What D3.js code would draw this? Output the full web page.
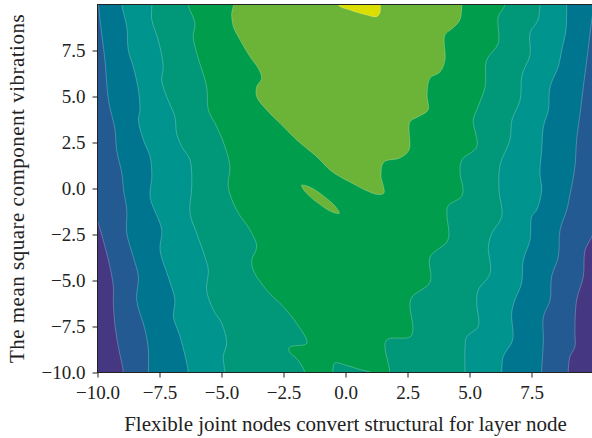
<!DOCTYPE html>
<html>
<head>
<meta charset="utf-8">
<script src="https://cdn.jsdelivr.net/npm/d3@7"></script>
<style>
  html, body { margin: 0; padding: 0; background: #fff; }
  svg { display: block; }
</style>
</head>
<body>
<div id="chart"></div>
<script>
// Axis ticks
const xTicks = [-10, -7.5, -5, -2.5, 0, 2.5, 5, 7.5];
const yTicks = [-10, -7.5, -5, -2.5, 0, 2.5, 5, 7.5];

// Filled contour levels, lowest to highest
const bandColors = ["#463782", "#235a91", "#00758f", "#00948f", "#009878", "#009e4c", "#6cb437", "#dcde00"];

// Contour boundaries as [x, y], top to bottom.
// leftN / rightN enclose level N and everything above it.
const left1 = [[-10.5, 2.0], [-10.25, -0.8], [-10.01, -1.71], [-9.70, -3.16], [-9.50, -4.25], [-9.36, -5.34], [-9.36, -6.22], [-9.29, -7.51], [-9.16, -8.60], [-8.96, -9.96]];
const right1 = [[10.5, 2.0], [10.3, -0.8], [10.14, -1.71], [9.93, -2.62], [9.66, -3.35], [9.59, -4.79], [9.32, -6.06], [9.25, -7.69], [9.25, -8.60], [9.05, -9.14], [8.98, -9.97]];

const left2 = [[-9.97, 10.24], [-9.90, 9.16], [-9.70, 6.98], [-9.56, 4.81], [-9.29, 3.18], [-9.23, 2.09], [-9.02, 0.84], [-8.95, -0.08], [-8.82, -1.17], [-8.82, -2.42], [-8.56, -3.71], [-8.35, -4.79], [-8.42, -6.06], [-8.08, -7.69], [-7.95, -8.78], [-7.95, -9.97]];
const right2 = [[10.06, 10.24], [9.93, 9.16], [9.73, 6.98], [9.59, 5.53], [9.46, 4.09], [9.32, 2.64], [9.25, 1.18], [9.05, -0.35], [8.92, -1.17], [8.65, -2.26], [8.58, -3.71], [8.31, -4.79], [8.25, -6.06], [7.98, -6.97], [7.98, -8.23], [7.91, -9.97]];

const left3 = [[-9.02, 9.97], [-8.82, 8.79], [-8.76, 7.53], [-8.56, 6.62], [-8.35, 5.35], [-8.29, 4.27], [-8.35, 3.72], [-8.15, 2.64], [-7.88, 1.73], [-7.81, 0.64], [-7.88, -0.45], [-7.41, -2.26], [-7.48, -3.35], [-7.15, -4.79], [-6.88, -6.06], [-6.94, -6.97], [-6.67, -8.05], [-6.34, -9.97]];
const right3 = [[8.92, 9.97], [8.89, 8.61], [8.72, 7.53], [8.58, 6.62], [8.25, 5.53], [8.18, 4.27], [7.98, 3.36], [7.91, 2.09], [7.84, 0.83], [7.91, -0.08], [7.71, -1.17], [7.51, -1.53], [7.44, -2.80], [7.17, -3.89], [7.10, -5.15], [6.83, -6.06], [6.70, -6.78], [6.74, -8.23], [6.36, -9.14], [6.30, -9.97]];

const left4 = [[-7.81, 9.97], [-7.81, 9.16], [-7.55, 8.07], [-7.35, 6.62], [-7.41, 5.90], [-7.21, 4.99], [-6.88, 3.90], [-6.81, 2.99], [-6.60, 2.27], [-6.27, 1.55], [-6.20, 0.10], [-6.27, -1.35], [-6.00, -2.43], [-5.67, -3.71], [-5.53, -4.43], [-5.60, -5.52], [-5.33, -6.60], [-4.99, -7.33], [-4.79, -8.41], [-4.93, -9.14], [-4.86, -9.97]];
const right4 = [[7.84, 9.97], [7.76, 9.16], [7.44, 8.45], [7.44, 7.26], [7.12, 6.17], [7.04, 4.81], [6.71, 3.72], [6.63, 2.64], [6.23, 1.28], [6.19, -0.08], [6.30, -1.53], [5.90, -2.43], [5.76, -3.16], [5.83, -4.61], [5.35, -5.52], [5.29, -6.24], [5.35, -7.51], [4.89, -8.05], [4.82, -8.60], [4.82, -9.97]];

const left5 = [[-6.34, 9.97], [-6.07, 8.98], [-6.14, 8.25], [-6.00, 7.35], [-5.60, 5.53], [-5.53, 4.27], [-5.19, 3.36], [-4.86, 2.27], [-4.66, 1.18], [-4.73, 0.10], [-4.39, -1.17], [-3.85, -2.26], [-3.58, -3.16], [-3.78, -3.89], [-3.72, -4.43], [-3.18, -5.52], [-2.51, -6.42], [-1.97, -7.33], [-1.56, -8.41], [-2.24, -8.61], [-2.28, -8.83], [-1.92, -9.32], [-1.63, -10.03]];
const right5 = [[6.43, 9.97], [6.16, 9.34], [6.16, 7.89], [5.69, 6.98], [5.63, 5.53], [5.29, 4.27], [5.15, 3.72], [5.29, 2.27], [4.69, 1.55], [4.62, 0.83], [4.74, -0.08], [4.66, -0.46], [4.13, -0.95], [4.09, -1.44], [4.13, -2.80], [3.41, -3.72], [3.41, -5.08], [2.68, -5.90], [2.60, -6.33], [2.72, -7.69], [2.60, -8.07], [1.71, -8.18], [1.59, -8.45], [1.79, -9.97]];

// level 4 wedge poking up from the bottom edge
const bottomWedge = [[-0.50, -10.5], [-0.44, -9.5], [-0.02, -9.59], [0.58, -9.84], [1.07, -10.03], [1.30, -10.5]];

// level 6 outlines
const upperBlob = [[-4.55, 10.5], [-4.52, 9.97], [-4.59, 9.52], [-4.52, 8.79], [-4.25, 8.07], [-3.85, 7.16], [-3.52, 6.53], [-3.38, 5.99], [-3.58, 5.53], [-3.58, 4.99], [-3.18, 4.27], [-2.64, 3.54], [-1.97, 2.64], [-1.16, 1.73], [-0.63, 1.01], [-0.22, 0.64], [0.18, 0.35], [0.79, -0.08], [1.31, -0.33], [1.55, -0.25], [1.43, 0.73], [1.55, 1.44], [2.19, 1.66], [2.56, 2.09], [2.60, 3.62], [2.92, 3.89], [3.33, 4.27], [3.29, 5.08], [3.41, 6.00], [3.81, 6.33], [4.01, 6.98], [4.01, 8.34], [4.33, 8.72], [4.61, 9.16], [4.70, 10.08], [4.72, 10.5]];
const island = [[-0.25, -1.35], [-0.55, -1.27], [-1.12, -0.78], [-1.62, -0.18], [-1.77, 0.18], [-1.47, 0.09], [-0.90, -0.39], [-0.40, -0.99]];

// level 7 peak at the top edge
const peak = [[-0.32, 10.5], [-0.29, 9.97], [0.18, 9.70], [0.85, 9.43], [1.26, 9.34], [1.39, 9.55], [1.41, 10.0], [1.43, 10.5]];

const xTitle = "Flexible joint nodes convert structural for layer node";
const yTitle = "The mean square component vibrations";

// ---------------------------------------------------------------

const W = 592, H = 438;
const margin = { top: 4.5, right: -1.5, bottom: 65.5, left: 97.5 };
const iW = W - margin.left - margin.right;
const iH = H - margin.top - margin.bottom;
const font = "'Liberation Serif', 'Times New Roman', serif";
const edge = "rgba(255,255,255,0.35)";

const xScale = d3.scaleLinear().domain([-10, 10]).range([0, iW]);
const yScale = d3.scaleLinear().domain([-10, 10]).range([iH, 0]);

const svg = d3.select("#chart").append("svg").attr("width", W).attr("height", H);

svg.append("defs").append("clipPath").attr("id", "plot-clip")
	.append("rect").attr("width", iW).attr("height", iH);

const g = svg.append("g").attr("transform", `translate(${margin.left},${margin.top})`);
const plot = g.append("g").attr("clip-path", "url(#plot-clip)");

const line = d3.line()
	.x((d) => xScale(d[0]))
	.y((d) => yScale(d[1]))
	.curve(d3.curveCatmullRom.alpha(0.5));
const loop = d3.line()
	.x((d) => xScale(d[0]))
	.y((d) => yScale(d[1]))
	.curve(d3.curveCatmullRomClosed.alpha(0.5));

// left edge down, across below the plot, right edge back up
function bandOutline(L, R) {
	const out = [];
	if (L[0][1] < 10.4) out.push([L[0][0], 10.5]);
	out.push(...L, [L[L.length - 1][0], -10.5], [R[R.length - 1][0], -10.5]);
	out.push(...R.slice().reverse());
	if (R[0][1] < 10.4) out.push([R[0][0], 10.5]);
	return out;
}

plot.append("rect").attr("width", iW).attr("height", iH).attr("fill", bandColors[0]);

[[left1, right1], [left2, right2], [left3, right3], [left4, right4], [left5, right5]]
	.forEach(([L, R], i) => {
		plot.append("path")
			.attr("d", line(bandOutline(L, R)) + "Z")
			.attr("fill", bandColors[i + 1])
			.attr("stroke", edge)
			.attr("stroke-width", 0.7);
	});

plot.append("path")
	.attr("d", line(bottomWedge) + "Z")
	.attr("fill", bandColors[4])
	.attr("stroke", edge)
	.attr("stroke-width", 0.7);

[upperBlob, island].forEach((pts) => {
	plot.append("path")
		.attr("d", loop(pts))
		.attr("fill", bandColors[6])
		.attr("stroke", edge)
		.attr("stroke-width", 0.7);
});

plot.append("path")
	.attr("d", loop(peak))
	.attr("fill", bandColors[7])
	.attr("stroke", edge)
	.attr("stroke-width", 0.7);

// Frame
g.append("rect")
	.attr("width", iW).attr("height", iH)
	.attr("fill", "none")
	.attr("stroke", "#222")
	.attr("stroke-width", 1);

// Axes
function styleAxis(gEl) {
	gEl.select(".domain").remove();
	gEl.selectAll("line").attr("stroke", "#222").attr("stroke-width", 1);
	gEl.selectAll("text")
		.attr("fill", "#222")
		.style("font-family", font)
		.style("font-size", "19px");
}

g.append("g")
	.attr("transform", `translate(0,${iH})`)
	.call(d3.axisBottom(xScale).tickValues(xTicks).tickFormat(d3.format(".1f")).tickSize(5).tickPadding(8))
	.call(styleAxis);

g.append("g")
	.call(d3.axisLeft(yScale).tickValues(yTicks).tickFormat(d3.format(".1f")).tickSize(5).tickPadding(7))
	.call(styleAxis);

// Axis titles
svg.append("text")
	.attr("x", margin.left + xScale(0))
	.attr("y", 431)
	.attr("text-anchor", "middle")
	.attr("fill", "#222")
	.style("font-family", font)
	.style("font-size", "21px")
	.text(xTitle);

svg.append("text")
	.attr("transform", `translate(24,${margin.top + iH / 2}) rotate(-90)`)
	.attr("text-anchor", "middle")
	.attr("fill", "#222")
	.style("font-family", font)
	.style("font-size", "21px")
	.style("letter-spacing", "0.5px")
	.text(yTitle);
</script>
</body>
</html>
